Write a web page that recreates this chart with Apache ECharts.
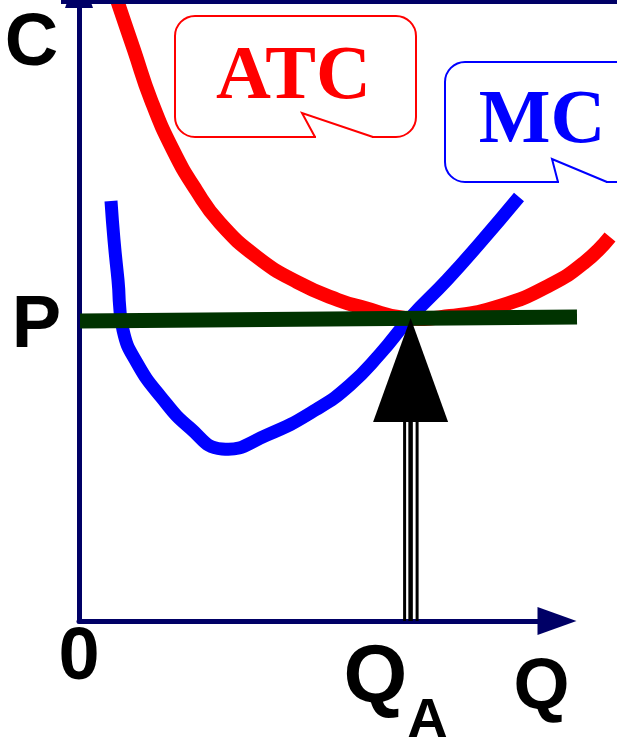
<!DOCTYPE html>
<html style="height: 100%">
<head>
  <meta charset="utf-8">
</head>
<body style="height: 100%; margin: 0">
  <div id="container" style="height: 100%"></div>

  <script type="text/javascript" src="https://cdn.jsdelivr.net/npm/echarts@6/dist/echarts.min.js"></script>
  <script type="text/javascript">
    // quantity (Q) and cost (C), measured from the origin of the axes
    var atcQ = [32, 38, 55, 72, 94, 117, 141, 178, 218, 259, 286, 326, 371, 421, 471, 506, 531];
    var atcC = [640, 621, 571, 521, 471, 431, 398, 364, 339, 321, 313, 303, 305, 315, 336, 359, 384];

    var mcQ = [32, 35, 39, 44, 58, 82, 111, 143, 188, 238, 271, 301, 331, 368, 401, 440];
    var mcC = [420, 381, 341, 291, 258, 224, 193, 172, 186, 212, 236, 267, 303, 341, 378, 424];

    var priceQ = [1, 498];
    var priceC = [300, 304];

    var qA = 331.6;      // output where P = min ATC
    var pLevel = 300;    // price tick
    var arrowTip = 303;

    var xTicks = [0, qA];
    var yTicks = [pLevel];

    var navy = '#000066';
    var sans = 'Liberation Sans';
    var serif = 'Liberation Serif';

    function zip(a, b) {
      return a.map(function (v, i) { return [v, b[i]]; });
    }

    // smooth cost curve through the read points (no control-point clamping)
    function curveSeries(name, qs, cs, color, width, z) {
      return {
        name: name,
        type: 'custom',
        xAxisIndex: 0,
        yAxisIndex: 0,
        clip: false,
        z: z,
        data: zip(qs, cs),
        renderItem: function (params, api) {
          if (params.dataIndex !== 0) return;
          var pts = qs.map(function (q, i) { return api.coord([q, cs[i]]); });
          return {
            type: 'polyline',
            shape: { points: pts, smooth: 0.5 },
            style: { fill: 'none', stroke: color, lineWidth: width }
          };
        }
      };
    }

    var dom = document.getElementById('container');
    var myChart = echarts.init(dom);

    var hiddenAxis = {
      type: 'value',
      min: 0,
      show: false,
      axisLine: { show: false },
      axisTick: { show: false },
      axisLabel: { show: false },
      splitLine: { show: false }
    };

    var option = {
      animation: false,
      backgroundColor: '#ffffff',
      grid: [
        // plotting area, full width
        { left: 79, right: 0, top: 0, bottom: 118, containLabel: false, outerBoundsMode: 'none' },
        // visible axes, x axis stops before its arrow
        { left: 79, right: 60, top: 0, bottom: 118, containLabel: false, outerBoundsMode: 'none' }
      ],
      xAxis: [
        Object.assign({}, hiddenAxis, { gridIndex: 0, max: 538 }),
        {
          type: 'value',
          gridIndex: 1,
          min: 0,
          max: 478,
          axisLine: {
            show: true,
            symbol: ['none', 'triangle'],
            symbolSize: [28, 39],
            lineStyle: { color: navy, width: 5 }
          },
          axisTick: { show: false },
          splitLine: { show: false },
          axisLabel: {
            customValues: xTicks,
            margin: 0.5,
            color: '#000',
            formatter: function (v) {
              return v === 0 ? '{z|0}' : '{q|Q}{a|A}';
            },
            rich: {
              z: { fontSize: 74, fontWeight: 'bold', fontFamily: sans, color: '#000' },
              q: { fontSize: 82, fontWeight: 'bold', fontFamily: sans, color: '#000',
                   verticalAlign: 'top', padding: [17, 0, 0, 0] },
              a: { fontSize: 56, fontWeight: 'bold', fontFamily: sans, color: '#000',
                   verticalAlign: 'bottom', padding: [72, 30, 0, 0] }
            }
          }
        }
      ],
      yAxis: [
        Object.assign({}, hiddenAxis, { gridIndex: 0, max: 621 }),
        {
          type: 'value',
          gridIndex: 1,
          min: 0,
          max: 621,
          axisLine: {
            show: true,
            symbol: ['none', 'triangle'],
            symbolSize: [28, 39],
            symbolOffset: [0, 11.5],
            lineStyle: { color: navy, width: 5 }
          },
          axisTick: { show: false },
          splitLine: { show: false },
          axisLabel: {
            customValues: yTicks,
            margin: 18,
            color: '#000',
            formatter: function () { return '{p|P}'; },
            rich: {
              p: { fontSize: 74, fontWeight: 'bold', fontFamily: sans, color: '#000',
                   padding: [12, 0, 0, 0] }
            }
          }
        }
      ],
      graphic: [
        { type: 'rect', shape: { x: 61, y: 0, width: 556, height: 4 }, style: { fill: navy }, z: 10 },
        { type: 'text', style: { text: 'C', x: 31.5, y: 45, font: 'bold 74px "' + sans + '"', fill: '#000',
            align: 'center', verticalAlign: 'middle', textAlign: 'center', textVerticalAlign: 'middle' } },
        { type: 'text', style: { text: 'Q', x: 541.5, y: 689, font: 'bold 72px "' + sans + '"', fill: '#000',
            align: 'center', verticalAlign: 'middle', textAlign: 'center', textVerticalAlign: 'middle' } },

        // ATC callout
        { type: 'rect', shape: { x: 175, y: 16, width: 241, height: 121, r: 20 },
          style: { fill: 'none', stroke: '#ff0000', lineWidth: 2 } },
        { type: 'line', shape: { x1: 316, y1: 137, x2: 372, y2: 137 },
          style: { stroke: '#ffffff', lineWidth: 4 } },
        { type: 'polyline', shape: { points: [[373, 137], [302, 113], [315, 137]] },
          style: { fill: 'none', stroke: '#ff0000', lineWidth: 2 } },
        { type: 'text', style: { text: 'ATC', x: 293.5, y: 78, font: 'bold 76px "' + serif + '"', fill: '#ff0000',
            align: 'center', verticalAlign: 'middle', textAlign: 'center', textVerticalAlign: 'middle' } },

        // MC callout
        { type: 'rect', shape: { x: 445, y: 62, width: 200, height: 120, r: 20 },
          style: { fill: 'none', stroke: '#0000ff', lineWidth: 2 } },
        { type: 'line', shape: { x1: 559, y1: 182, x2: 606, y2: 182 },
          style: { stroke: '#ffffff', lineWidth: 4 } },
        { type: 'polyline', shape: { points: [[607, 182], [552, 159], [558, 182]] },
          style: { fill: 'none', stroke: '#0000ff', lineWidth: 2 } },
        { type: 'text', style: { text: 'MC', x: 542, y: 122.5, font: 'bold 76px "' + serif + '"', fill: '#0000ff',
            align: 'center', verticalAlign: 'middle', textAlign: 'center', textVerticalAlign: 'middle' } }
      ],
      series: [
        curveSeries('ATC', atcQ, atcC, '#ff0000', 14, 2),
        curveSeries('MC', mcQ, mcC, '#0000ff', 13, 3),
        {
          name: 'P',
          type: 'line',
          xAxisIndex: 0,
          yAxisIndex: 0,
          data: zip(priceQ, priceC),
          showSymbol: false,
          symbol: 'none',
          clip: false,
          z: 4,
          lineStyle: { color: '#003300', width: 15 }
        },
        {
          name: 'arrow',
          type: 'custom',
          xAxisIndex: 0,
          yAxisIndex: 0,
          clip: false,
          z: 5,
          data: [[qA, arrowTip]],
          renderItem: function (params, api) {
            var tip = api.coord([api.value(0), api.value(1)]);
            var foot = api.coord([api.value(0), 0]);
            var baseY = tip[1] + 104;
            var kids = [{
              type: 'polygon',
              shape: { points: [[tip[0], tip[1]], [tip[0] + 37.5, baseY], [tip[0] - 37.5, baseY]] },
              style: { fill: '#000' }
            }];
            [[-6, 3], [0, 4.5], [6.5, 3]].forEach(function (s) {
              kids.push({
                type: 'line',
                shape: { x1: tip[0] + s[0], y1: baseY, x2: tip[0] + s[0], y2: foot[1] },
                style: { stroke: '#000', lineWidth: s[1] }
              });
            });
            return { type: 'group', children: kids };
          }
        }
      ]
    };

    myChart.setOption(option);
  </script>
</body>
</html>
